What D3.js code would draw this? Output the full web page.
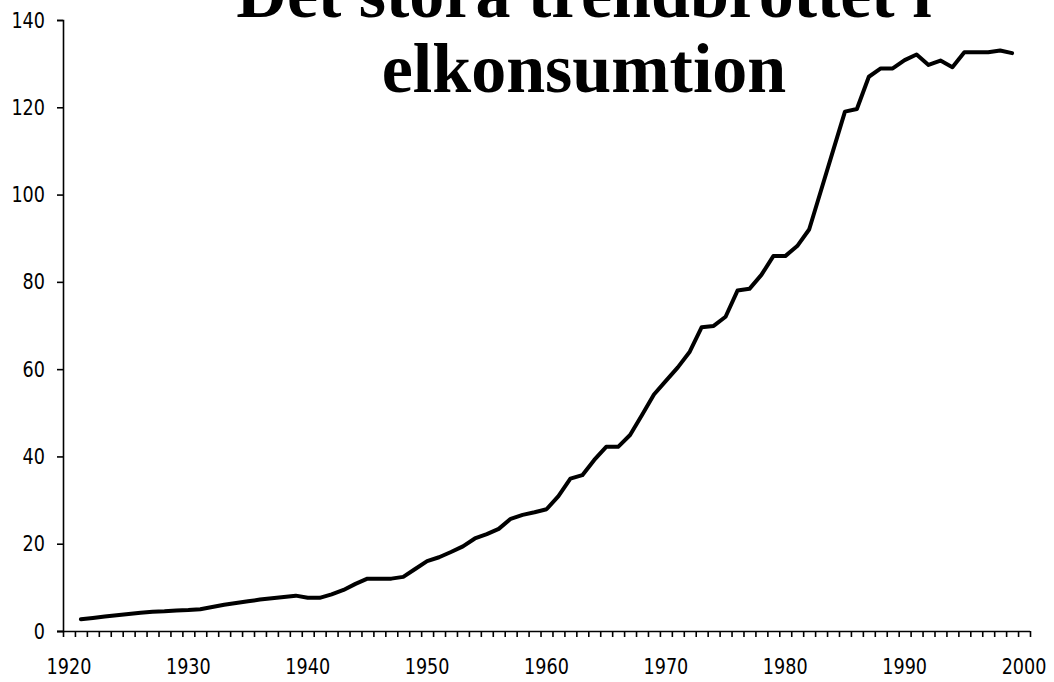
<!DOCTYPE html>
<html>
<head>
<meta charset="utf-8">
<script src="https://cdn.jsdelivr.net/npm/d3@7"></script>
<style>
  html, body { margin: 0; padding: 0; background: #fff; }
  svg { display: block; }
</style>
</head>
<body>
<svg id="chart" width="1054" height="682"></svg>
<script>
// ---- data ----
const titleLines = ["Det stora trendbrottet i", "elkonsumtion"];
const categories = d3.range(1920, 2001); // 1920..2000 category axis
const years = d3.range(1921, 2000);      // data years 1921..1999
const values = [
  2.7, 3.0, 3.3, 3.6, 3.9, 4.2, 4.4, 4.5, 4.7, 4.8,        // 1921-1930
  5.0, 5.5, 6.0, 6.4, 6.8, 7.2, 7.5, 7.8, 8.1, 7.6,        // 1931-1940
  7.6, 8.4, 9.4, 10.8, 12.0, 12.0, 12.0, 12.4, 14.2, 16.0, // 1941-1950
  16.9, 18.1, 19.4, 21.2, 22.2, 23.4, 25.7, 26.6, 27.2, 27.9, // 1951-1960
  30.9, 34.9, 35.7, 39.2, 42.2, 42.2, 44.9, 49.5, 54.2, 57.3, // 1961-1970
  60.4, 64.0, 69.6, 69.9, 72.0, 78.0, 78.4, 81.6, 85.9, 85.9, // 1971-1980
  88.2, 92.0, 101.0, 110.0, 119.0, 119.6, 127.0, 128.9, 128.9, 130.8, // 1981-1990
  132.1, 129.7, 130.7, 129.2, 132.6, 132.6, 132.6, 133.0, 132.4  // 1991-1999
];
const yTicks = [0, 20, 40, 60, 80, 100, 120, 140];
const xLabelYears = [1920, 1930, 1940, 1950, 1960, 1970, 1980, 1990, 2000];

// ---- layout ----
const plotLeft = 63, plotRight = 1030, plotTop = 20, plotBottom = 631;
const svg = d3.select("#chart");

const x = d3.scaleBand().domain(categories).range([plotLeft, plotRight]).paddingInner(0).paddingOuter(0);
const xEdge = d3.scaleLinear().domain([1920, 2001]).range([plotLeft, plotRight]);
const y = d3.scaleLinear().domain([0, 140]).range([plotBottom, plotTop]);

const labelFont = "DejaVu Sans, Verdana, sans-serif";
const labelSize = 22;
const digitWidth = 11.2;

function styleLabels(sel) {
  sel.attr("font-family", labelFont)
    .attr("font-size", labelSize)
    .attr("fill", "#000")
    .attr("lengthAdjust", "spacingAndGlyphs")
    .attr("textLength", function () { return this.textContent.length * digitWidth; });
}

// y axis
const yAxis = svg.append("g")
  .attr("transform", `translate(${plotLeft},0)`)
  .call(d3.axisLeft(y).tickValues(yTicks).tickSize(6).tickPadding(12).tickFormat(d3.format("d")));
yAxis.selectAll("path, line").attr("stroke", "#000").attr("stroke-width", 1.6);
styleLabels(yAxis.selectAll("text"));

// x axis tick marks at category boundaries
const xTickAxis = svg.append("g")
  .attr("transform", `translate(0,${plotBottom})`)
  .call(d3.axisBottom(xEdge).tickValues(d3.range(1920, 2002)).tickSize(6).tickFormat(""));
xTickAxis.selectAll("path, line").attr("stroke", "#000").attr("stroke-width", 1.6);
xTickAxis.select("path.domain").attr("d", `M${plotLeft - 6},0.5H${plotRight}`);

// x axis labels centered under categories
const xLabelAxis = svg.append("g")
  .attr("transform", `translate(0,${plotBottom})`)
  .call(d3.axisBottom(x).tickValues(xLabelYears).tickSize(0).tickPadding(27).tickFormat(d3.format("d")));
xLabelAxis.select("path.domain").remove();
styleLabels(xLabelAxis.selectAll("text"));

// line
const line = d3.line()
  .x((d, i) => x(years[i]) + x.bandwidth() / 2)
  .y(d => y(d));
svg.append("path")
  .datum(values)
  .attr("d", line)
  .attr("fill", "none")
  .attr("stroke", "#000")
  .attr("stroke-width", 4)
  .attr("stroke-linejoin", "round")
  .attr("stroke-linecap", "round");

// title
svg.append("text")
  .attr("font-family", "Liberation Serif, Times New Roman, serif")
  .attr("font-weight", "bold")
  .attr("font-size", 70)
  .attr("text-anchor", "middle")
  .attr("fill", "#000")
  .selectAll("tspan")
  .data(titleLines)
  .join("tspan")
  .attr("x", 584)
  .attr("y", (d, i) => 17 + i * 75)
  .text(d => d);
</script>
</body>
</html>
